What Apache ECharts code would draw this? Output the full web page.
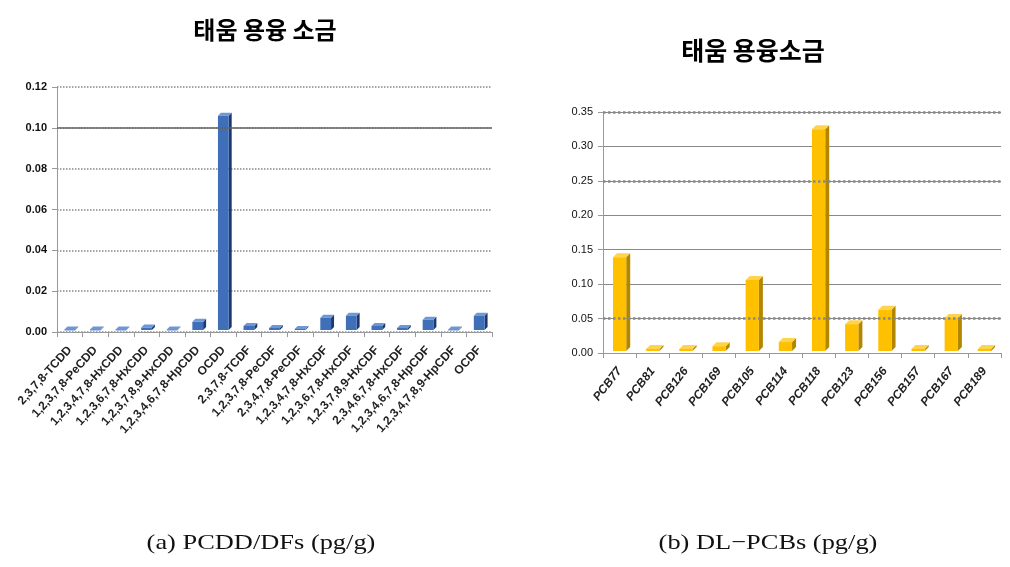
<!DOCTYPE html>
<html><head><meta charset="utf-8">
<script src="https://cdn.jsdelivr.net/npm/echarts@6/dist/echarts.min.js"></script>
<style>html,body{margin:0;padding:0;background:#fff}#c{width:1010px;height:567px}</style>
</head><body><div id="c"></div>
<script>
var dioxinCats = ['2,3,7,8-TCDD','1,2,3,7,8-PeCDD','1,2,3,4,7,8-HxCDD','1,2,3,6,7,8-HxCDD','1,2,3,7,8,9-HxCDD','1,2,3,4,6,7,8-HpCDD','OCDD','2,3,7,8-TCDF','1,2,3,7,8-PeCDF','2,3,4,7,8-PeCDF','1,2,3,4,7,8-HxCDF','1,2,3,6,7,8-HxCDF','1,2,3,7,8,9-HxCDF','2,3,4,6,7,8-HxCDF','1,2,3,4,6,7,8-HpCDF','1,2,3,4,7,8,9-HpCDF','OCDF'];
var dioxinVals = [0.0003,0.0003,0.0003,0.0012,0.0003,0.004,0.105,0.002,0.001,0.0005,0.006,0.007,0.002,0.001,0.005,0.0003,0.007];
var pcbCats = ['PCB77','PCB81','PCB126','PCB169','PCB105','PCB114','PCB118','PCB123','PCB156','PCB157','PCB167','PCB189'];
var pcbVals = [0.136,0.003,0.003,0.007,0.103,0.013,0.322,0.039,0.06,0.003,0.048,0.003];
var dioxinTicks = [0,0.02,0.04,0.06,0.08,0.10,0.12];
var pcbTicks = [0,0.05,0.10,0.15,0.20,0.25,0.30,0.35];

function bar3d(colors, ratio, d) {
  return function (params, api) {
    var x = api.value(0), v = api.value(1);
    var top = api.coord([x, v]), base = api.coord([x, 0]);
    var bw = api.size([1, 0])[0] * ratio;
    var x0 = top[0] - bw / 2, y0 = top[1] - 2, yb = base[1] - 2;
    return {type: 'group', children: [
      {type: 'polygon', shape: {points: [[x0 + bw, y0], [x0 + bw + d, y0 - d], [x0 + bw + d, yb - d], [x0 + bw, yb]]}, style: {fill: colors[1]}},
      {type: 'polygon', shape: {points: [[x0, y0], [x0 + d, y0 - d], [x0 + bw + d, y0 - d], [x0 + bw, y0]]}, style: {fill: colors[2]}},
      {type: 'rect', shape: {x: x0, y: y0, width: bw, height: Math.max(yb - y0, 1)}, style: {fill: colors[0]}}
    ]};
  };
}
function toData(vals) { return vals.map(function (v, i) { return [i, v]; }); }

var chart = echarts.init(document.getElementById('c'));
chart.setOption({
  backgroundColor: '#fff',
  animation: false,
  title: [
    {text: '태움 용융 소금', left: 260, top: 13, textAlign: 'center', textStyle: {fontFamily: 'Noto Sans CJK KR', fontWeight: 'bold', fontSize: 24, color: '#000'}},
    {text: '태움 용융소금', left: 748, top: 33, textAlign: 'center', textStyle: {fontFamily: 'Noto Sans CJK KR', fontWeight: 'bold', fontSize: 25, color: '#000'}}
  ],
  graphic: [
    {type: 'text', x: 261, y: 543, scaleX: 1.2, style: {text: '(a) PCDD/DFs (pg/g)', font: '22px "Liberation Serif"', fill: '#111', align: 'center', verticalAlign: 'middle'}},
    {type: 'text', x: 768, y: 543, scaleX: 1.2, style: {text: '(b) DL\u2212PCBs (pg/g)', font: '22px "Liberation Serif"', fill: '#111', align: 'center', verticalAlign: 'middle'}}
  ],
  grid: [
    {left: 57, right: 518, top: 87, bottom: 235},
    {left: 603, right: 9, top: 112, bottom: 214}
  ],
  xAxis: [
    {type: 'category', gridIndex: 0, data: dioxinCats,
      axisLine: {lineStyle: {color: '#999'}}, axisTick: {show: true, length: 5, lineStyle: {color: '#999'}},
      axisLabel: {rotate: 48, interval: 0, fontSize: 12, fontWeight: 'bold', color: '#222', fontFamily: 'Liberation Sans Narrow, Liberation Sans', margin: 16}},
    {type: 'category', gridIndex: 1, data: pcbCats,
      axisLine: {lineStyle: {color: '#999'}}, axisTick: {show: true, length: 5, lineStyle: {color: '#999'}},
      axisLabel: {rotate: 52, interval: 0, fontSize: 12, fontStyle: 'italic', fontWeight: 'bold', color: '#222', fontFamily: 'Liberation Sans Narrow, Liberation Sans', margin: 16}}
  ],
  yAxis: [
    {type: 'value', gridIndex: 0, min: dioxinTicks[0], max: dioxinTicks[dioxinTicks.length - 1], interval: 0.02,
      axisLine: {show: true, lineStyle: {color: '#999'}}, axisTick: {show: true, length: 5, lineStyle: {color: '#999'}},
      axisLabel: {fontSize: 11, fontWeight: 'bold', color: '#111', fontFamily: 'Liberation Sans', margin: 10, formatter: function (v) { return v.toFixed(2); }},
      splitLine: {lineStyle: {color: '#888', type: 'dotted', width: 1.5}}},
    {type: 'value', gridIndex: 1, min: pcbTicks[0], max: pcbTicks[pcbTicks.length - 1], interval: 0.05,
      axisLine: {show: true, lineStyle: {color: '#999'}}, axisTick: {show: true, length: 5, lineStyle: {color: '#999'}},
      axisLabel: {fontSize: 11, color: '#111', fontFamily: 'Liberation Sans Narrow, Liberation Sans', margin: 10, formatter: function (v) { return v.toFixed(2); }},
      splitLine: {lineStyle: {color: '#888', type: 'solid', width: 1}}}
  ],
  series: [
    {type: 'custom', xAxisIndex: 0, yAxisIndex: 0, data: toData(dioxinVals), encode: {x: 0, y: 1},
      renderItem: bar3d(['#3f6fb8', '#1d3a6e', '#6f97d6'], 0.42, 3),
      markLine: {silent: true, symbol: 'none', label: {show: false}, lineStyle: {color: '#666', type: 'solid', width: 1.5}, data: [{yAxis: 0.10}]}},
    {type: 'custom', xAxisIndex: 1, yAxisIndex: 1, data: toData(pcbVals), encode: {x: 0, y: 1},
      renderItem: bar3d(['#ffc000', '#b38600', '#ffd44d'], 0.4, 4),
      markLine: {silent: true, symbol: 'none', label: {show: false}, lineStyle: {color: '#888', type: 'dotted', width: 2.5}, data: [{yAxis: 0.25}, {yAxis: 0.05}, {yAxis: 0.35}]}}
  ]
});
</script></body></html>
